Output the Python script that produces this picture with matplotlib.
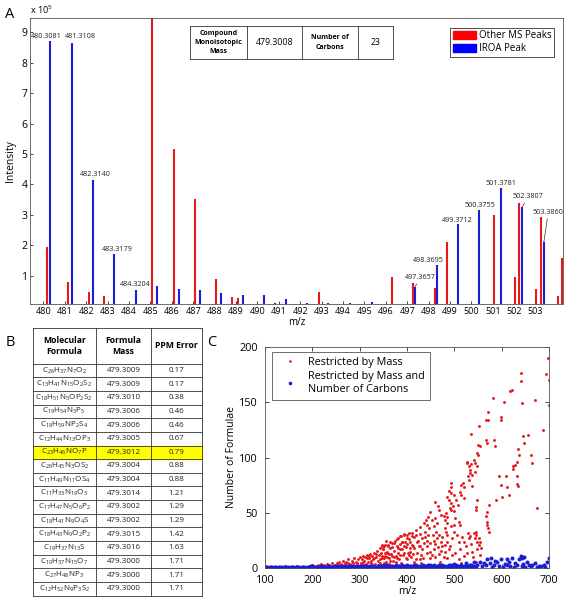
import re
import matplotlib
matplotlib.use("Agg")
import matplotlib.pyplot as plt
from matplotlib.patches import Patch, Rectangle

plt.rcParams['font.family'] = ['Open Sans', 'DejaVu Sans']
plt.rcParams['mathtext.fontset'] = 'custom'
plt.rcParams['mathtext.rm'] = 'Open Sans'
plt.rcParams['mathtext.it'] = 'Open Sans:italic'
plt.rcParams['mathtext.bf'] = 'Open Sans:bold'

# ---------------- panel A data (intensity in units of 1e5) ----------------
other_mz = [480.15, 481.15, 482.15, 482.85, 485.09, 486.10, 487.07, 488.07, 488.83, 489.08,
            492.86, 496.30, 497.26, 498.30, 498.87, 501.04, 502.04, 502.24, 503.03, 503.25,
            504.03, 504.25]
other_int = [1.95, 0.78, 0.47, 0.32, 9.80, 5.15, 3.51, 0.88, 0.29, 0.27,
             0.47, 0.96, 0.77, 0.58, 2.12, 2.98, 0.95, 3.40, 0.57, 2.94,
             0.34, 1.57]
iroa_mz = [480.3081, 481.3108, 482.3140, 483.3179, 484.3204, 485.31, 486.32, 487.32, 488.31, 489.31,
           490.31, 490.84, 491.32, 492.30, 493.31, 494.33, 495.34, 497.3657, 498.3695, 499.3712,
           500.3755, 501.3781, 502.3807, 503.3860]
iroa_int = [8.73, 8.66, 4.14, 1.71, 0.53, 0.67, 0.55, 0.53, 0.42, 0.38,
            0.35, 0.11, 0.23, 0.11, 0.10, 0.10, 0.15, 0.64, 1.35, 2.70,
            3.16, 3.87, 3.27, 2.11]
labeled_peaks = [0, 1, 2, 3, 4, 17, 18, 19, 20, 21, 22, 23]
compound_mass = 479.3008
n_carbons = 23

# ---------------- panel B data ----------------
formulae = ['C26H37N7O2', 'C13H41N15O2S2', 'C18H51N5OP2S2', 'C19H54N3P5', 'C18H59NP2S4',
            'C12H44N13OP3', 'C23H46NO7P', 'C26H45N3OS2', 'C11H49N11OS4', 'C11H33N19O3',
            'C17H47N5O6P2', 'C18H41N9O4S', 'C18H43N9O2P2', 'C19H37N13S', 'C10H37N15O7',
            'C27H48NP3', 'C12H52N9P3S2']
formula_mass = [479.3009, 479.3009, 479.3010, 479.3006, 479.3006, 479.3005, 479.3012, 479.3004,
                479.3004, 479.3014, 479.3002, 479.3002, 479.3015, 479.3016, 479.3000, 479.3000,
                479.3000]
ppm_error = [0.17, 0.17, 0.38, 0.46, 0.46, 0.67, 0.79, 0.88, 0.88, 1.21, 1.29, 1.29, 1.42,
             1.63, 1.71, 1.71, 1.71]
highlight_formula = 'C23H46NO7P'

# ---------------- panel C data ----------------
red_mz = [105, 118, 130, 142, 155, 168, 180, 192, 200, 206,
          212, 218, 224, 230, 236, 242, 248, 252, 256, 260,
          264, 268, 272, 276, 280, 284, 288, 292, 296, 300,
          258, 270, 282, 294, 302, 304, 306, 308, 310, 312,
          314, 316, 318, 320, 322, 324, 326, 328, 330, 332,
          334, 336, 338, 340, 342, 344, 346, 348, 350, 352,
          354, 356, 358, 360, 362, 364, 366, 368, 370, 372,
          374, 376, 378, 380, 382, 384, 386, 388, 390, 392,
          394, 396, 398, 400, 355, 347, 318, 332, 345, 362,
          375, 388, 398, 405, 410, 415, 402, 408, 412, 420,
          571, 571, 598, 598, 552, 567, 536, 550, 554, 567,
          568, 584, 586, 548, 550, 526, 527, 531, 533, 534,
          528, 531, 536, 541, 543, 547, 543, 538, 519, 514,
          521, 538, 494, 492, 488, 494, 499, 485, 488, 493,
          497, 493, 490, 500, 511, 515, 504, 507, 521, 547,
          545, 545, 460, 465, 467, 471, 449, 444, 440, 435,
          442, 446, 453, 460, 463, 456, 478, 481, 485, 483,
          485, 492, 499, 509, 513, 481, 483, 485, 502, 427,
          420, 427, 432, 411, 404, 400, 393, 386, 390, 379,
          372, 365, 359, 354, 347, 349, 407, 411, 414, 421,
          435, 442, 449, 463, 471, 474, 485, 495, 509, 520,
          531, 534, 541, 545, 543, 548, 552, 554, 386, 393,
          407, 421, 432, 442, 456, 467, 481, 488, 502, 513,
          527, 538, 548, 358, 368, 351, 379, 400, 428, 449,
          485, 520, 555,
          405, 415, 425, 430, 438, 445, 452, 458, 462, 468,
          475, 478, 490, 496, 505, 510, 516, 524, 529, 536,
          540, 546, 552, 556, 430, 470, 515, 545, 460, 500,
          303, 307, 311, 315, 319, 323, 327, 331, 335, 339,
          343, 347, 351, 353, 357, 361, 365, 369, 373, 377,
          381, 385, 389, 393, 397, 401, 407, 413, 418, 423,
          428, 433, 437, 443, 448, 454, 459, 466, 472, 480,
          205, 215, 225, 235, 245, 255, 265, 275, 285, 295,
          594, 610, 598, 612, 615, 601, 587, 573, 568, 566,
          568, 569, 571, 573, 634, 637, 633, 625, 629, 625,
          633, 632, 634, 646, 647, 656, 663, 665, 674, 687,
          693, 640, 622, 617, 670, 700, 605, 581, 642, 697,
          640, 699]
red_n = [1, 1, 1, 2, 1, 2, 1, 2, 3, 2,
         3, 4, 2, 4, 3, 5, 3, 5, 6, 4,
         7, 5, 6, 8, 4, 7, 9, 6, 8, 10,
         2, 3, 2, 3, 5, 8, 11, 3, 7, 10,
         4, 12, 6, 9, 13, 5, 11, 8, 14, 4,
         10, 16, 7, 12, 18, 5, 14, 9, 17, 20,
         11, 6, 15, 21, 9, 18, 13, 23, 7, 16,
         25, 11, 20, 27, 14, 8, 22, 29, 17, 12,
         31, 24, 19, 30, 25, 21, 2, 1, 3, 4,
         2, 5, 3, 26, 32, 28, 14, 10, 20, 30,
         141, 134, 137, 134, 128, 134, 121, 111, 110, 116,
         113, 116, 110, 104, 102, 96, 95, 92, 89, 86,
         83, 80, 94, 98, 95, 92, 87, 84, 77, 75,
         73, 74, 77, 73, 70, 68, 66, 64, 62, 59,
         56, 53, 54, 52, 69, 66, 62, 57, 63, 62,
         55, 53, 60, 56, 53, 48, 51, 46, 44, 41,
         39, 36, 44, 45, 41, 38, 47, 44, 46, 50,
         41, 38, 39, 42, 39, 36, 33, 30, 45, 37,
         35, 31, 27, 29, 32, 27, 30, 29, 24, 26,
         23, 24, 20, 21, 20, 17, 24, 21, 18, 24,
         23, 20, 23, 27, 24, 20, 24, 27, 24, 24,
         27, 29, 32, 33, 27, 24, 21, 24, 17, 14,
         15, 14, 17, 14, 17, 13, 15, 17, 14, 17,
         14, 15, 17, 14, 11, 9, 9, 8, 8, 9,
         9, 11, 12,
         12, 6, 20, 12, 28, 30, 12, 25, 33, 30,
         28, 10, 20, 12, 30, 8, 28, 20, 32, 22,
         10, 30, 27, 18, 5, 6, 5, 6, 22, 33,
         2, 6, 3, 9, 11, 7, 3, 9, 13, 3,
         8, 11, 5, 14, 10, 13, 7, 19, 10, 6,
         18, 12, 24, 20, 9, 22, 18, 13, 8, 25,
         20, 9, 33, 25, 15, 30, 10, 19, 16, 21,
         1, 2, 3, 2, 2, 3, 2, 5, 5, 5,
         83, 83, 75, 73, 66, 64, 62, 57, 51, 47,
         42, 39, 36, 33, 108, 102, 96, 92, 93, 90,
         83, 76, 74, 119, 113, 120, 102, 95, 54, 125,
         175, 169, 161, 160, 152, 147, 150, 154, 149, 190,
         176, 170]

blue_mz = [100, 104, 108, 112, 116, 120, 124, 128, 132, 136,
           140, 144, 148, 152, 156, 160, 164, 168, 172, 176,
           180, 184, 188, 192, 196, 200, 204, 208, 212, 216,
           220, 224, 228, 232, 236, 240, 244, 248, 252, 256,
           260, 264, 268, 272, 276, 280, 284, 288, 292, 296,
           300, 304, 308, 312, 316, 320, 324, 328, 332, 336,
           340, 344, 348, 352, 356, 360, 364, 368, 372, 376,
           380, 384, 388, 392, 396, 400, 404, 408, 412, 416,
           420, 424, 428, 432, 436, 440, 444, 448, 452, 456,
           460, 464, 468, 472, 476, 480, 484, 488, 492, 496,
           500, 504, 508, 512, 516, 520, 524, 528, 532, 536,
           540, 544, 548,
           102, 106, 110, 114, 118, 122, 126, 130, 134, 138,
           142, 146, 150, 154, 158, 162, 166, 170, 174, 178,
           182, 186, 190, 194, 198, 202, 206, 210, 214, 218,
           222, 226, 230, 234, 238, 242, 246, 250, 254, 258,
           262, 266, 270, 274, 278, 282, 286, 290, 294, 298,
           302, 306, 310, 314, 318, 322, 326, 330, 334, 338,
           342, 346, 350, 354, 358, 362, 366, 370, 374, 378,
           382, 386, 390, 394, 398, 402, 406, 410, 414, 418,
           422, 426, 430, 434, 438, 442, 446, 450, 454, 458,
           462, 466, 470, 474, 478, 482, 486, 490, 494, 498,
           502, 506, 510, 514, 518, 522, 526, 530, 534, 538,
           542, 546,
           555, 562, 569, 576, 584, 591, 598, 606, 615, 622,
           629, 636, 640, 646, 654, 665, 670, 679, 689, 695,
           699, 558, 566, 580, 594, 603, 611, 618, 626, 633,
           642, 650, 658, 662, 675, 684, 692, 524, 541, 499,
           449, 578, 586, 612, 648, 644]
blue_n = [0, 1, 0, 1, 1, 0, 1, 0, 1, 1,
          0, 1, 1, 0, 1, 1, 0, 1, 1, 0,
          1, 1, 0, 1, 1, 2, 1, 0, 1, 1,
          2, 1, 0, 1, 2, 1, 1, 0, 2, 1,
          1, 2, 0, 1, 2, 1, 1, 2, 0, 1,
          2, 1, 2, 0, 1, 2, 1, 2, 1, 0,
          2, 1, 2, 3, 1, 2, 0, 2, 1, 3,
          1, 2, 0, 2, 1, 3, 1, 2, 0, 2,
          3, 1, 2, 1, 0, 2, 3, 1, 2, 1,
          2, 0, 3, 1, 2, 2, 1, 3, 0, 2,
          1, 3, 2, 1, 2, 0, 3, 2, 1, 3,
          2, 1, 3,
          1, 0, 1, 0, 0, 1, 0, 1, 0, 0,
          1, 0, 0, 1, 0, 0, 1, 0, 0, 1,
          0, 0, 1, 0, 2, 1, 0, 1, 0, 2,
          1, 0, 1, 2, 0, 1, 2, 1, 0, 2,
          0, 1, 2, 1, 0, 2, 1, 0, 2, 1,
          0, 2, 1, 2, 0, 1, 2, 1, 0, 2,
          1, 0, 2, 1, 3, 0, 2, 1, 2, 0,
          2, 1, 3, 0, 2, 1, 2, 0, 3, 1,
          2, 0, 1, 3, 2, 1, 0, 2, 1, 3,
          0, 2, 1, 3, 1, 0, 2, 1, 3, 2,
          0, 2, 1, 3, 0, 2, 1, 2, 3, 1,
          0, 2,
          6, 5, 8, 5, 3, 6, 8, 4, 6, 9,
          5, 8, 11, 4, 6, 3, 5, 2, 3, 6,
          9, 2, 3, 1, 2, 1, 3, 2, 1, 3,
          2, 1, 3, 2, 1, 2, 1, 5, 6, 4,
          3, 9, 7, 8, 10, 9]

RED = '#e8191b'
BLUE = '#1c1cd6'
W, H = 567, 600


def box(l, t, r, b):
    # pixel box (top-left origin) -> figure fraction rect
    return [l / W, 1 - b / H, (r - l) / W, (b - t) / H]


fig = plt.figure(figsize=(W / 100, H / 100), dpi=100)

# ---------------- panel A ----------------
ax_a = fig.add_axes(box(30, 18, 563, 304))
ax_a.vlines(other_mz, 0, other_int, color=RED, lw=1.5)
ax_a.vlines(iroa_mz, 0, iroa_int, color=BLUE, lw=1.5)
ax_a.set_xlim(479.37, 504.28)
ax_a.set_ylim(0.07, 9.47)
ax_a.set_xticks(range(480, 504))
ax_a.set_yticks(range(1, 10))
ax_a.tick_params(direction='in', length=2.5, width=0.5, labelsize=6.5, pad=2)
ax_a.tick_params(axis='y', labelsize=7.5)
for s in ax_a.spines.values():
    s.set_linewidth(0.6)
    s.set_color('#555555')
ax_a.set_xlabel('m/z', fontsize=7, labelpad=1)
ax_a.set_ylabel('Intensity', fontsize=7.5, labelpad=4)

label_pos = {0: (480.12, 8.87), 1: (481.73, 8.85), 2: (482.41, 4.33), 3: (483.45, 1.87),
             4: (484.31, 0.72), 17: (497.63, 0.94), 18: (497.99, 1.51), 19: (499.36, 2.83),
             20: (500.40, 3.31), 21: (501.37, 4.04), 22: (502.66, 3.60), 23: (503.59, 3.08)}
leaders = [17, 22, 23]
for i in labeled_peaks:
    tx, ty = label_pos[i]
    arrow = dict(arrowstyle='-', lw=0.5, color='#333333', shrinkA=0, shrinkB=0) if i in leaders else None
    ax_a.annotate(f'{iroa_mz[i]:.4f}', xy=(iroa_mz[i], iroa_int[i]), xytext=(tx, ty),
                  ha='center', va='center', fontsize=5.2, color='#222222', arrowprops=arrow)

leg_a = ax_a.legend(handles=[Patch(color='#ff0000', label='Other MS Peaks'),
                             Patch(color='#0000ff', label='IROA Peak')],
                    loc='upper right', bbox_to_anchor=(554 / W, 1 - 28 / H),
                    bbox_transform=fig.transFigure, borderaxespad=0, fontsize=7,
                    handlelength=2.4, handleheight=1.0, handletextpad=0.3, borderpad=0.25,
                    labelspacing=0.2, fancybox=False, edgecolor='#333333', framealpha=1)
leg_a.get_frame().set_linewidth(0.6)

fig.text(30 / W, 1 - 10 / H, r'x 10$^{5}$', fontsize=6.5, ha='left', va='center')

# ---------------- panel C ----------------
ax_c = fig.add_axes(box(265, 346.7, 549, 568.3))
ax_c.plot(red_mz, red_n, ls='none', marker='o', ms=2.1, mew=0, color=RED, label='Restricted by Mass')
ax_c.plot(blue_mz, blue_n, ls='none', marker='o', ms=2.9, mew=0, color=BLUE,
          label='Restricted by Mass and\nNumber of Carbons')
ax_c.set_xlim(100, 700)
ax_c.set_ylim(0, 200)
ax_c.set_xticks(range(100, 701, 100))
ax_c.set_yticks(range(0, 201, 50))
ax_c.tick_params(direction='in', length=3, width=0.5, labelsize=7.8, top=True, right=True, pad=4.5)
ax_c.tick_params(axis='y', pad=5)
for s in ax_c.spines.values():
    s.set_linewidth(0.6)
    s.set_color('#555555')
ax_c.set_xlabel('m/z', fontsize=7.5, labelpad=0)
ax_c.set_ylabel('Number of Formulae', fontsize=7.5, labelpad=2)
leg_c = ax_c.legend(loc='upper left', bbox_to_anchor=(272 / W, 1 - 352 / H),
                    bbox_transform=fig.transFigure, borderaxespad=0, fontsize=7.8,
                    markerscale=0.9, handlelength=2.4, handletextpad=0.5, borderpad=0.45,
                    labelspacing=0.3, fancybox=False, edgecolor='#555555', framealpha=1)
leg_c.get_frame().set_linewidth(0.6)

# ---------------- overlay in pixel coords: tables and panel letters ----------------
ax_o = fig.add_axes([0, 0, 1, 1], zorder=5)
ax_o.set_xlim(0, W)
ax_o.set_ylim(H, 0)
ax_o.axis('off')
ax_o.patch.set_alpha(0)

line_kw = dict(color='#333333', lw=0.6)

# inset table in A
tx = [190, 246.7, 302, 358.3, 393.3]
ty0, ty1 = 26, 59
for x in tx:
    ax_o.plot([x, x], [ty0, ty1], **line_kw)
for y in (ty0, ty1):
    ax_o.plot([tx[0], tx[-1]], [y, y], **line_kw)
cells = ['Compound\nMonoisotopic\nMass', f'{compound_mass:.4f}', 'Number of\nCarbons', f'{n_carbons}']
for k, txt in enumerate(cells):
    bold = k % 2 == 0
    ax_o.text((tx[k] + tx[k + 1]) / 2, (ty0 + ty1) / 2, txt, ha='center', va='center',
              fontsize=5 if bold else 6.3, fontweight='bold' if bold else 'normal',
              linespacing=1.45)

# table B
cols = [32.5, 96, 151, 202]
top, hdr_b, row_h = 328, 363.6, 13.65
n = len(formulae)
bottom = hdr_b + n * row_h
hi = formulae.index(highlight_formula)
ax_o.add_patch(Rectangle((cols[0], hdr_b + hi * row_h), cols[-1] - cols[0], row_h,
                         color='#ffff00', zorder=0))
for x in cols:
    ax_o.plot([x, x], [top, bottom], **line_kw)
for y in [top] + [hdr_b + i * row_h for i in range(n + 1)]:
    ax_o.plot([cols[0], cols[-1]], [y, y], **line_kw)
headers = ['Molecular\nFormula', 'Formula\nMass', 'PPM Error']
for k, txt in enumerate(headers):
    ax_o.text((cols[k] + cols[k + 1]) / 2, (top + hdr_b) / 2, txt, ha='center', va='center',
              fontsize=6.2, fontweight='bold', linespacing=1.35)
for i in range(n):
    yc = hdr_b + (i + 0.5) * row_h
    f_txt = re.sub(r'(\d+)', r'$_{\1}$', formulae[i])
    vals = [f_txt, f'{formula_mass[i]:.4f}', f'{ppm_error[i]:.2f}']
    for k, txt in enumerate(vals):
        ax_o.text((cols[k] + cols[k + 1]) / 2, yc, txt, ha='center', va='center',
                  fontsize=5.8, color='#222222')

for letter, (lx, ly) in {'A': (10, 14), 'B': (10, 343), 'C': (212, 343)}.items():
    ax_o.text(lx, ly, letter, ha='center', va='center', fontsize=10.5)

fig.savefig('out.png', dpi=100)
